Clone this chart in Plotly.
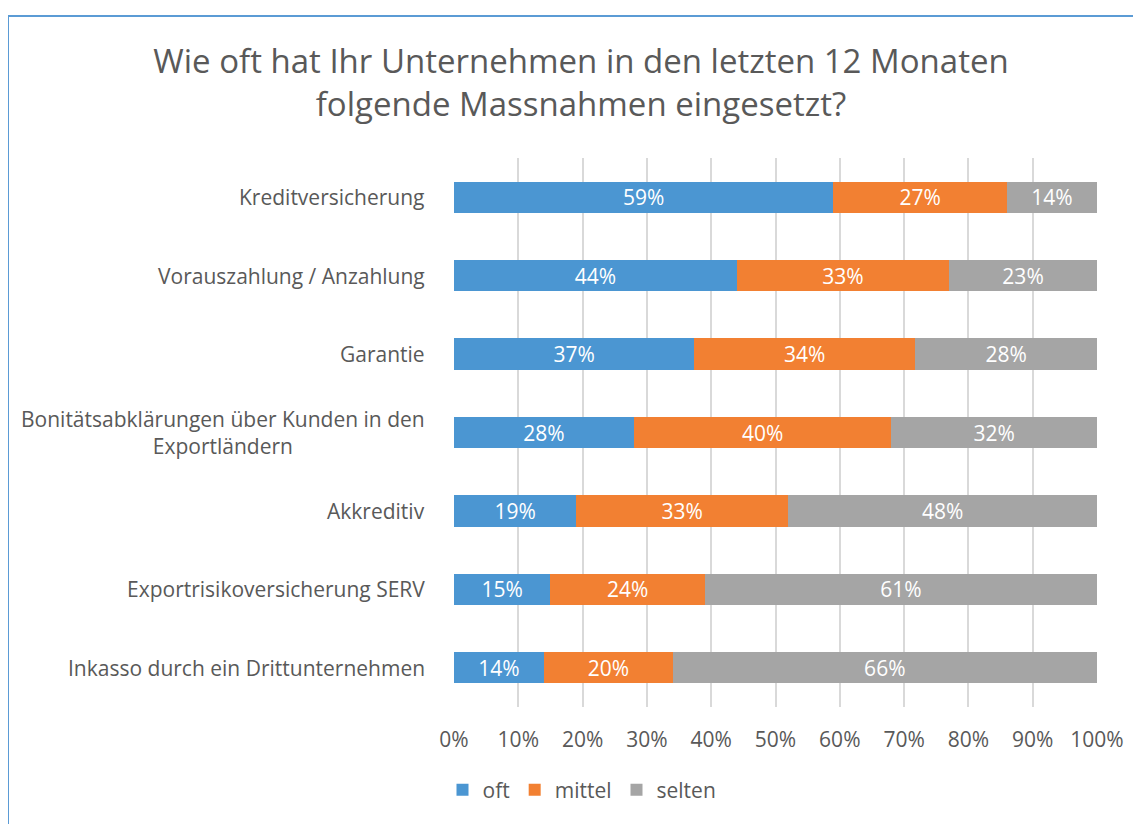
import plotly.graph_objects as go

categories = [
    "Kreditversicherung",
    "Vorauszahlung / Anzahlung",
    "Garantie",
    "Bonitätsabklärungen über Kunden in den<br>Exportländern",
    "Akkreditiv",
    "Exportrisikoversicherung SERV",
    "Inkasso durch ein Drittunternehmen",
]
oft = [59, 44, 37, 28, 19, 15, 14]
mittel = [27, 33, 34, 40, 33, 24, 20]
selten = [14, 23, 28, 32, 48, 61, 66]
series_names = ["oft", "mittel", "selten"]
series_colors = ["#4b96d2", "#f28032", "#a5a5a5"]
x_ticks = [0, 10, 20, 30, 40, 50, 60, 70, 80, 90, 100]
title_text = "Wie oft hat Ihr Unternehmen in den letzten 12 Monaten<br>folgende Massnahmen eingesetzt?"

FONT = "Open Sans"
TXT = "#595959"
FS = 21

# page has an 8px body margin; work in figure pixels = page pixels - 8
OFF = 8
W, H = 1141 - OFF, 824 - OFF
L, R, T, B = 454 - OFF, 1097 - OFF, 158 - OFF, 707 - OFF

fig = go.Figure()
for name, vals, col in zip(series_names, [oft, mittel, selten], series_colors):
    fig.add_trace(go.Bar(
        y=categories, x=vals, name=name, orientation="h",
        marker=dict(color=col, line=dict(width=0)),
        text=[f"{v}%" for v in vals], textposition="inside",
        insidetextanchor="middle", constraintext="none",
        textfont=dict(color="white", size=FS, family=FONT),
        hoverinfo="skip",
    ))

annotations = []
for c in categories:
    annotations.append(dict(
        x=0, xref="paper", y=c, yref="y", xanchor="right", xshift=-27,
        text=c, showarrow=False, align="center",
        font=dict(size=FS, family=FONT, color=TXT),
    ))

def px_x(px):
    return (px - OFF - L) / (R - L)

def px_y(py):
    return (B - (py - OFF)) / (B - T)

shapes = [dict(
    type="rect", xref="paper", yref="paper",
    x0=px_x(8), x1=px_x(1160), y0=px_y(840), y1=px_y(16),
    line=dict(color="#5b9bd5", width=2), fillcolor="rgba(0,0,0,0)", layer="below",
)]

fig.update_layout(
    width=W, height=H,
    margin=dict(l=L, r=W - R, t=T, b=H - B, pad=0),
    barmode="stack", barnorm="percent", bargap=0.6,
    paper_bgcolor="white", plot_bgcolor="white",
    title=dict(text=title_text, x=(581 - OFF) / W, xanchor="center",
               y=1 - 65 / H, yanchor="middle",
               font=dict(size=33, family=FONT, color=TXT)),
    xaxis=dict(range=[0, 100], tickvals=x_ticks, ticktext=[f"{t}%" for t in x_ticks],
               showgrid=True, gridcolor="#d9d9d9", gridwidth=1.5, zeroline=False,
               showline=False, ticks="", ticklabelstandoff=18,
               tickfont=dict(size=FS, family=FONT, color=TXT), fixedrange=True),
    yaxis=dict(autorange="reversed", showticklabels=False, showgrid=False,
               zeroline=False, showline=False, ticks="", fixedrange=True),
    legend=dict(orientation="h", x=px_x(582),
                xanchor="center", y=px_y(790), yanchor="middle",
                font=dict(size=FS, family=FONT, color=TXT), traceorder="normal",
                itemwidth=30),
    showlegend=True,
    annotations=annotations,
    shapes=shapes,
)

fig.write_html("out.html")
